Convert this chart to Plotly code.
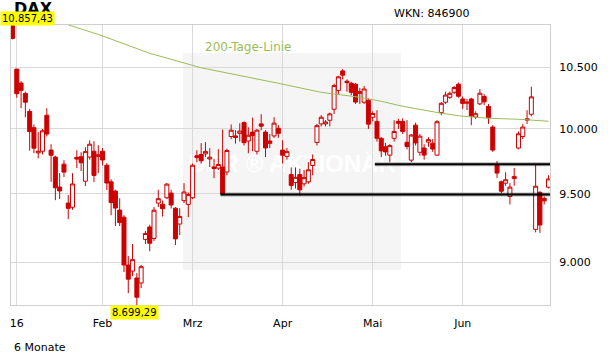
import math
import plotly.graph_objects as go

# ---------------- data ----------------
first_date = "2015-12-30"
month_days = {
    "2016-01": [4, 5, 6, 7, 8, 11, 12, 13, 14, 15, 18, 19, 20, 21, 22, 25, 26, 27, 28, 29],
    "2016-02": [1, 2, 3, 4, 5, 8, 9, 10, 11, 12, 15, 16, 17, 18, 19, 22, 23, 24, 25, 26, 29],
    "2016-03": [1, 2, 3, 4, 7, 8, 9, 10, 11, 14, 15, 16, 17, 18, 21, 22, 23, 24, 29, 30, 31],
    "2016-04": [1, 4, 5, 6, 7, 8, 11, 12, 13, 14, 15, 18, 19, 20, 21, 22, 25, 26, 27, 28, 29],
    "2016-05": [2, 3, 4, 5, 6, 9, 10, 11, 12, 13, 17, 18, 19, 20, 23, 24, 25, 26, 27, 30, 31],
    "2016-06": [1, 2, 3, 6, 7, 8, 9, 10, 13, 14, 15, 16, 17, 20, 21, 22, 23, 24, 27, 28, 29],
}
dates = [first_date] + [f"{m}-{d:02d}" for m, days in month_days.items() for d in days]

opens = [
    10850, 10485, 10370, 10285, 10140, 10010, 9812, 9825, 10109, 9834,
    9780, 9550, 9725, 9430, 9399, 9778, 9782, 9595, 9780, 9825,
    9785, 9825, 9717, 9590, 9520, 9378, 9325, 8979, 8936, 8887,
    8852, 9163, 9253, 9170, 9430, 9422, 9470, 9505, 9392, 9275,
    9448, 9420, 9470, 9790, 9800, 9805, 9765, 9703, 9695, 9703,
    9665, 9940, 9945, 9965, 10050, 9905, 9975, 9825, 10040, 9975,
    9905, 9945, 10005, 9834, 9785, 9645, 9585, 9645, 9575, 9590,
    9715, 9894, 10040, 10040, 10069, 10157, 10310, 10470, 10385, 10368,
    10360, 10285, 10214, 10230, 10093, 10060, 9926, 9860, 9795, 9926,
    10060, 10060, 9895, 9756, 10030, 9817, 9850, 9896, 9888, 9795,
    10130, 10214, 10254, 10294, 10360, 10240, 10215, 10240, 10095, 10200,
    10260, 10180, 10015, 9715, 9590, 9580, 9480, 9615, 9850, 9940,
    10080, 10117, 9236, 9510, 9465, 9549,
]
highs = [
    10857.43, 10486, 10385, 10300, 10160, 10035, 9975, 10000, 10165, 9880,
    9790, 9656, 9756, 9490, 9656, 9833, 9817, 9857, 9910, 9904,
    9872, 9850, 9733, 9610, 9530, 9466, 9340, 9043, 9130, 8922,
    8980, 9225, 9270, 9400, 9530, 9450, 9580, 9530, 9400, 9392,
    9580, 9510, 9730, 9833, 9888, 9896, 9849, 9764, 9841, 9995,
    9845, 10035, 9990, 10045, 10060, 10013, 10090, 10000, 10117, 9990,
    9960, 10093, 10030, 9911, 9850, 9700, 9700, 9690, 9680, 9740,
    9800, 10040, 10110, 10070, 10130, 10365, 10430, 10486, 10400, 10380,
    10370, 10330, 10345, 10245, 10140, 10149, 9935, 9890, 9880, 10069,
    10080, 10085, 10070, 9960, 10050, 9960, 9880, 9935, 9920, 10070,
    10215, 10300, 10300, 10345, 10375, 10260, 10240, 10250, 10140, 10320,
    10280, 10200, 10030, 9750, 9600, 9663, 9580, 9696, 9980, 10040,
    10149, 10340, 9725, 9520, 9480, 9640,
]
lows = [
    10735, 10250, 10165, 10093, 9830, 9810, 9770, 9800, 9940, 9590,
    9452, 9460, 9626, 9311, 9380, 9695, 9672, 9558, 9760, 9588,
    9656, 9715, 9528, 9340, 9260, 9260, 8929, 8781, 8900, 8699.29,
    8817, 9130, 9078, 9150, 9400, 9330, 9460, 9390, 9122, 9194,
    9430, 9326, 9460, 9740, 9730, 9780, 9703, 9618, 9680, 9490,
    9640, 9920, 9885, 9900, 9870, 9810, 9825, 9800, 9990, 9780,
    9850, 9930, 9930, 9730, 9760, 9530, 9540, 9485, 9555, 9575,
    9640, 9870, 10020, 10020, 10020, 10120, 10280, 10400, 10300, 10270,
    10200, 10200, 10200, 10000, 10060, 9900, 9780, 9790, 9740, 9900,
    10000, 9960, 9840, 9740, 9870, 9790, 9760, 9860, 9820, 9790,
    10110, 10200, 10240, 10280, 10250, 10160, 10150, 10030, 10080, 10190,
    10190, 10040, 9820, 9620, 9505, 9560, 9420, 9560, 9840, 9920,
    10040, 10100, 9214, 9210, 9420, 9540,
]
closes = [
    10743, 10283, 10310, 10214, 9979, 9849, 9825, 9985, 9960, 9794,
    9545, 9521, 9664, 9391, 9574, 9764, 9736, 9822, 9880, 9639,
    9798, 9757, 9581, 9434, 9393, 9286, 8979, 8879, 9017, 8753,
    8967, 9206, 9135, 9377, 9463, 9388, 9573, 9416, 9167, 9331,
    9513, 9495, 9717, 9776, 9751, 9824, 9779, 9692, 9723, 9498,
    9831, 9990, 9933, 9983, 9892, 9950, 9948, 9990, 10022, 9851,
    9887, 10046, 9965, 9794, 9822, 9563, 9624, 9530, 9622, 9682,
    9761, 10026, 10093, 10055, 10120, 10349, 10421, 10435, 10373, 10294,
    10215, 10300, 10321, 10038, 10123, 9926, 9828, 9820, 9869, 9980,
    10045, 9980, 9862, 9952, 9890, 9943, 9795, 9916, 9842, 10057,
    10205, 10272, 10286, 10333, 10262, 10204, 10208, 10103, 10121, 10287,
    10217, 10088, 9834, 9657, 9519, 9606, 9550, 9631, 9962, 10015,
    10071, 10257, 9557, 9268, 9447, 9612,
]

# 200-day moving average (read at sample dates)
ma_dates = ["2016-01-20", "2016-01-29", "2016-02-16", "2016-02-25", "2016-03-03",
            "2016-03-31", "2016-04-14", "2016-04-27", "2016-05-04", "2016-05-11",
            "2016-05-25", "2016-06-01", "2016-06-09", "2016-06-20", "2016-06-29"]
ma_values = [10858, 10777, 10617, 10550, 10496,
             10368, 10294, 10254, 10221, 10181,
             10125, 10101, 10085, 10077, 10061]

# support lines
support_start = ["2016-03-10", "2016-05-03"]
support_level = [9495, 9725]

# axis ticks
x_tickvals = ["2016-01-04", "2016-02-01", "2016-03-01", "2016-04-01", "2016-05-02", "2016-06-01"]
x_ticktext = ["16", "Feb", "Mrz", "Apr", "Mai", "Jun"]
y_tickvals = [9000, 9500, 10000, 10500]
y_ticktext = ["9.000", "9.500", "10.000", "10.500"]

# ---------------- layout helpers ----------------
W, H = 611, 364
ML, MR, MT, MB = 11, 61, 25, 59
PW, PH = W - ML - MR, H - MT - MB


def px2x(px):
    return (px - ML) / PW


def px2y(py):
    return (MT + PH - py) / PH


def de_num(v):
    s = f"{v:,.2f}"
    return s.replace(",", "X").replace(".", ",").replace("X", ".")


RED = "#cc0000"
GREEN = "#9bbb59"
FONT = "DejaVu Sans"

fig = go.Figure()
fig.add_trace(go.Candlestick(
    x=dates, open=opens, high=highs, low=lows, close=closes,
    increasing=dict(line=dict(color=RED, width=1), fillcolor="white"),
    decreasing=dict(line=dict(color=RED, width=1), fillcolor=RED),
    whiskerwidth=0, hoverinfo="skip", showlegend=False,
))
fig.add_trace(go.Scatter(
    x=ma_dates, y=ma_values, mode="lines",
    line=dict(color=GREEN, width=1), hoverinfo="skip", showlegend=False,
))

shapes = [
    dict(type="rect", xref="paper", yref="paper",
         x0=px2x(183), x1=px2x(401), y0=px2y(270), y1=px2y(53),
         fillcolor="#f5f5f5", line=dict(width=0), layer="below",
         label=dict(text="DER ® AKTIONÄR", textposition="middle center",
                    font=dict(family="Liberation Sans", size=24, color="white", weight="bold"))),
]
x_end = len(dates) - 1 + 0.35
for start, level in zip(support_start, support_level):
    i0 = dates.index(start) - 0.5
    shapes.append(dict(type="line", xref="x", yref="y", x0=i0, x1=x_end,
                       y0=level, y1=level, line=dict(color="rgba(0,0,0,0.3)", width=4)))
    shapes.append(dict(type="line", xref="x", yref="y", x0=i0, x1=x_end,
                       y0=level, y1=level, line=dict(color="black", width=2)))

imin = lows.index(min(lows))
annotations = [
    dict(text="<b>DAX</b>", xref="paper", yref="paper", x=px2x(12), y=px2y(9),
         xanchor="left", yanchor="middle", showarrow=False, font=dict(size=16, color="black")),
    dict(text=de_num(max(highs)), xref="paper", yref="paper", x=px2x(0), y=px2y(18.5),
         xanchor="left", yanchor="middle", showarrow=False, bgcolor="#ffff00", borderpad=1,
         font=dict(size=10, color="black")),
    dict(text=de_num(min(lows)), xref="x", yref="paper", x=dates[imin], y=px2y(312),
         xanchor="center", yanchor="middle", xshift=-2, showarrow=False, bgcolor="#ffff00",
         borderpad=1, font=dict(size=10, color="black")),
    dict(text="WKN: 846900", xref="paper", yref="paper", x=px2x(392), y=px2y(14),
         xanchor="left", yanchor="middle", showarrow=False, font=dict(size=11, color="black")),
    dict(text="200-Tage-Linie", xref="paper", yref="paper", x=px2x(203), y=px2y(47),
         xanchor="left", yanchor="middle", showarrow=False, font=dict(size=12, color=GREEN)),
    dict(text="6 Monate", xref="paper", yref="paper", x=px2x(12), y=px2y(347),
         xanchor="left", yanchor="middle", showarrow=False, font=dict(size=11, color="black")),
]

fig.update_layout(
    width=W, height=H, margin=dict(l=ML, r=MR, t=MT, b=MB, pad=0),
    paper_bgcolor="white", plot_bgcolor="white",
    showlegend=False, boxgap=0.07, boxgroupgap=0,
    font=dict(family=FONT, size=11, color="black"),
    shapes=shapes, annotations=annotations,
    xaxis=dict(type="category", range=[-0.35, x_end],
               tickmode="array", tickvals=x_tickvals, ticktext=x_ticktext,
               showgrid=True, gridcolor="#d9d9d9", gridwidth=1,
               showline=True, linecolor="#cfcfcf", linewidth=1, mirror=True,
               ticks="", ticklabelstandoff=8, zeroline=False,
               rangeslider=dict(visible=False), tickfont=dict(size=11)),
    yaxis=dict(type="log", range=[math.log10(min(lows)), math.log10(max(highs))],
               side="right", tickmode="array", tickvals=y_tickvals, ticktext=y_ticktext,
               showgrid=True, gridcolor="#d9d9d9", gridwidth=1,
               showline=True, linecolor="#cfcfcf", linewidth=1, mirror=True,
               ticks="", ticklabelstandoff=6, zeroline=False, tickfont=dict(size=11)),
)

fig.write_html("out.html")
